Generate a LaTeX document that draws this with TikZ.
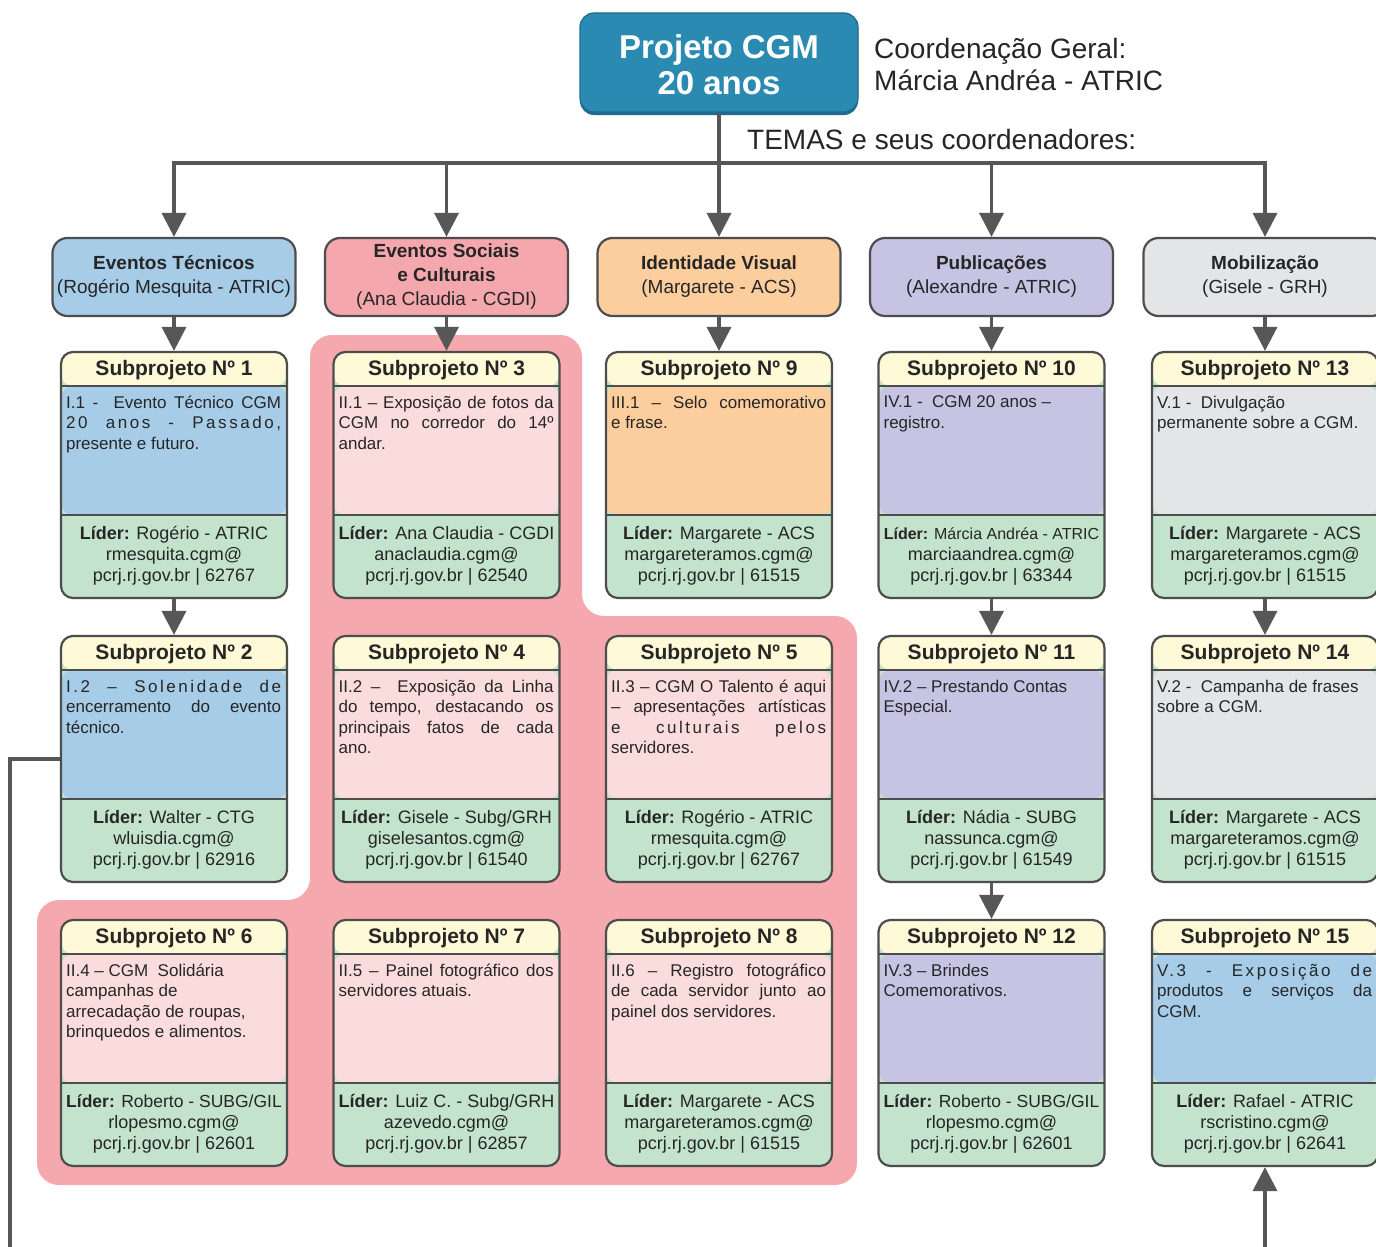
\documentclass[tikz,border=0pt]{standalone}
\usepackage{fontspec}
\setmainfont{Liberation Sans}
\usetikzlibrary{arrows.meta,calc}

\definecolor{edgegray}{HTML}{4D4D4D}
\definecolor{linkgray}{HTML}{575757}
\definecolor{ink}{HTML}{262626}
\definecolor{topblue}{HTML}{2B8AB1}
\definecolor{topshade}{HTML}{1F6B8E}
\definecolor{skyblue}{HTML}{A6CCE8}
\definecolor{rosepink}{HTML}{F4A7AD}
\definecolor{blush}{HTML}{FBDCDC}
\definecolor{peach}{HTML}{FCCD9D}
\definecolor{lavender}{HTML}{C7C3E2}
\definecolor{lightgray}{HTML}{E4E5E7}
\definecolor{cream}{HTML}{FEF9D6}
\definecolor{mint}{HTML}{C3E3CC}
\definecolor{zonepink}{HTML}{F5A9AE}

% letter-spaced run inside a justified line
\newcommand\spaced[1]{{\addfontfeature{LetterSpace=15}#1}}

\tikzset{
  topbox/.style={fill=topblue, draw=topshade, line width=1.2pt, rounded corners=14pt,
    minimum width=278pt, minimum height=99pt, inner sep=0pt,
    preaction={fill=topshade, transform canvas={yshift=-3pt}}},
  toptext/.style={inner sep=0pt, align=center, text=white,
    font=\bfseries\fontsize{33}{36}\selectfont},
  themebox/.style={draw=edgegray, line width=2.2pt, rounded corners=15pt, fill=#1,
    minimum width=243pt, minimum height=78pt, inner sep=0pt, align=center,
    font=\fontsize{19}{24}\selectfont},
  subbox/.style={draw=edgegray, line width=2.2pt, rounded corners=12pt,
    minimum width=226pt, minimum height=246pt, inner sep=0pt, fill=mint,
    path picture={
      \fill[cream] (path picture bounding box.north west) rectangle
        ([yshift=-34pt]path picture bounding box.north east);
      \fill[#1] ([yshift=-34pt]path picture bounding box.north west) rectangle
        ([yshift=83pt]path picture bounding box.south east);
      \draw[edgegray, line width=2.2pt]
        ([yshift=-34pt]path picture bounding box.north west) --
        ([yshift=-34pt]path picture bounding box.north east);
      \draw[edgegray, line width=2.2pt]
        ([yshift=83pt]path picture bounding box.south west) --
        ([yshift=83pt]path picture bounding box.south east);
    }},
  headtext/.style={inner sep=0pt, font=\bfseries\fontsize{21}{24}\selectfont},
  bodytext/.style={inner sep=0pt, anchor=north west, font=\fontsize{17}{20.3}\selectfont},
  leadtext/.style={inner sep=0pt, align=center, font=\fontsize{18}{21}\selectfont},
  note/.style={inner sep=0pt, anchor=west, align=left, font=\fontsize{28}{32}\selectfont},
  link/.style={draw=linkgray, line width=3.5pt, -{Triangle[width=24pt,length=24pt]}},
  every node/.append style={text=ink}
}

% one subproject card: name, centre x, centre y, number, body colour, body text, leader text
\newcommand\subproj[7]{%
  \node[subbox=#5] (#1) at (#2,#3) {};
  \node[headtext] (#1h) at ([yshift=-19pt]#1.north) {Subprojeto Nº #4};
  \node[bodytext] (#1b) at ([xshift=6pt,yshift=-45pt]#1.north west)
    {\parbox{215pt}{\tolerance=10000 #6}};
  \node[leadtext] (#1l) at ([yshift=43pt]#1.south) {#7};
}

\begin{document}
\begin{tikzpicture}[x=1pt,y=-1pt]
\useasboundingbox (0,0) rectangle (1376,1247);
\clip (0,0) rectangle (1376,1247);
\fill[white] (0,0) rectangle (1376,1247);

% pink zone grouping the social and cultural subprojects
\fill[zonepink, rounded corners=22pt]
  (310,335) -- (582,335) -- (582,616) -- (857,616) -- (857,1185)
  -- (37,1185) -- (37,900) -- (310,900) -- cycle;

% head of the chart
\node[topbox] (top) at (719,62.5) {};
\node[toptext] (toplabel) at (719,64.5) {Projeto CGM\\20 anos};
\node[note] (coord) at (874,64) {Coordenação Geral:\\Márcia Andréa - ATRIC};
\node[note] (temas) at (747,139) {TEMAS e seus coordenadores:};

% themes
\node[themebox=skyblue] (t1) at (174,277) {\textbf{Eventos Técnicos}\\(Rogério Mesquita - ATRIC)};
\node[themebox=rosepink] (t2) at (446.5,277) {\textbf{Eventos Sociais}\\\textbf{e Culturais}\\(Ana Claudia - CGDI)};
\node[themebox=peach] (t3) at (719,277) {\textbf{Identidade Visual}\\(Margarete - ACS)};
\node[themebox=lavender] (t4) at (991.5,277) {\textbf{Publicações}\\(Alexandre - ATRIC)};
\node[themebox=lightgray] (t5) at (1265,277) {\textbf{Mobilização}\\(Gisele - GRH)};

% subprojects
\subproj{s1}{174}{475}{1}{skyblue}
  {I.1 -\ \ Evento Técnico CGM\linebreak \spaced{20 anos - Passado,}\linebreak presente e futuro.}
  {\textbf{Líder:} Rogério - ATRIC\\rmesquita.cgm@\\pcrj.rj.gov.br | 62767}
\subproj{s2}{174}{759}{2}{skyblue}
  {\spaced{I.2 – Solenidade de}\linebreak encerramento do evento\linebreak técnico.}
  {\textbf{Líder:} Walter - CTG\\wluisdia.cgm@\\pcrj.rj.gov.br | 62916}
\subproj{s6}{174}{1043}{6}{blush}
  {II.4 – CGM\ \ Solidária\newline campanhas de\newline arrecadação de roupas,\newline brinquedos e alimentos.}
  {\fontsize{17.5}{21}\selectfont\textbf{Líder:} Roberto - SUBG/GIL\\rlopesmo.cgm@\\pcrj.rj.gov.br | 62601}

\subproj{s3}{446.5}{475}{3}{blush}
  {II.1 – Exposição de fotos da\linebreak CGM no corredor do 14º\linebreak andar.}
  {\textbf{Líder:} Ana Claudia - CGDI\\anaclaudia.cgm@\\pcrj.rj.gov.br | 62540}
\subproj{s4}{446.5}{759}{4}{blush}
  {II.2 –\ \ Exposição da Linha\linebreak do tempo, destacando os\linebreak principais fatos de cada\linebreak ano.}
  {\textbf{Líder:} Gisele - Subg/GRH\\giselesantos.cgm@\\pcrj.rj.gov.br | 61540}
\subproj{s7}{446.5}{1043}{7}{blush}
  {II.5 – Painel fotográfico dos\linebreak servidores atuais.}
  {\textbf{Líder:} Luiz C. - Subg/GRH\\azevedo.cgm@\\pcrj.rj.gov.br | 62857}

\subproj{s9}{719}{475}{9}{peach}
  {III.1 – Selo comemorativo\linebreak e frase.}
  {\textbf{Líder:} Margarete - ACS\\margareteramos.cgm@\\pcrj.rj.gov.br | 61515}
\subproj{s5}{719}{759}{5}{blush}
  {II.3 – CGM O Talento é aqui\linebreak – apresentações artísticas\linebreak \spaced{e culturais pelos}\linebreak servidores.}
  {\textbf{Líder:} Rogério - ATRIC\\rmesquita.cgm@\\pcrj.rj.gov.br | 62767}
\subproj{s8}{719}{1043}{8}{blush}
  {II.6 – Registro fotográfico\linebreak de cada servidor junto ao\linebreak painel dos servidores.}
  {\textbf{Líder:} Margarete - ACS\\margareteramos.cgm@\\pcrj.rj.gov.br | 61515}

\subproj{s10}{991.5}{475}{10}{lavender}
  {IV.1 -\ \ CGM 20 anos –\newline registro.}
  {{\fontsize{16}{21}\selectfont\textbf{Líder:} Márcia Andréa - ATRIC}\\marciaandrea.cgm@\\pcrj.rj.gov.br | 63344}
\subproj{s11}{991.5}{759}{11}{lavender}
  {IV.2 – Prestando Contas\newline Especial.}
  {\textbf{Líder:} Nádia - SUBG\\nassunca.cgm@\\pcrj.rj.gov.br | 61549}
\subproj{s12}{991.5}{1043}{12}{lavender}
  {IV.3 – Brindes\newline Comemorativos.}
  {\fontsize{17.5}{21}\selectfont\textbf{Líder:} Roberto - SUBG/GIL\\rlopesmo.cgm@\\pcrj.rj.gov.br | 62601}

\subproj{s13}{1265}{475}{13}{lightgray}
  {V.1 -\ \ Divulgação\newline permanente sobre a CGM.}
  {\textbf{Líder:} Margarete - ACS\\margareteramos.cgm@\\pcrj.rj.gov.br | 61515}
\subproj{s14}{1265}{759}{14}{lightgray}
  {V.2 -\ \ Campanha de frases\newline sobre a CGM.}
  {\textbf{Líder:} Margarete - ACS\\margareteramos.cgm@\\pcrj.rj.gov.br | 61515}
\subproj{s15}{1265}{1043}{15}{skyblue}
  {\spaced{V.3 - Exposição de}\linebreak produtos e serviços da\linebreak CGM.}
  {\textbf{Líder:} Rafael - ATRIC\\rscristino.cgm@\\pcrj.rj.gov.br | 62641}

% connectors from the head to the themes
\coordinate (bus) at (719,163);
\draw[link] (top.south) -- (t3.north);
\draw[link] (bus) -| (t1.north);
\draw[link] (bus) -| (t2.north);
\draw[link] (bus) -| (t4.north);
\draw[link] (bus) -| (t5.north);

% themes to their first subprojects
\draw[link] (t1.south) -- (s1.north);
\draw[link] (t2.south) -- (s3.north);
\draw[link] (t3.south) -- (s9.north);
\draw[link] (t4.south) -- (s10.north);
\draw[link] (t5.south) -- (s13.north);

% chains inside the columns
\draw[link] (s1.south) -- (s2.north);
\draw[link] (s10.south) -- (s11.north);
\draw[link] (s11.south) -- (s12.north);
\draw[link] (s13.south) -- (s14.north);

% long return line from subproject 2 to subproject 15
\coordinate (loopcorner) at (10,1300);
\draw[link] (s2.west) -| (loopcorner) -| (s15.south);
\end{tikzpicture}
\end{document}
